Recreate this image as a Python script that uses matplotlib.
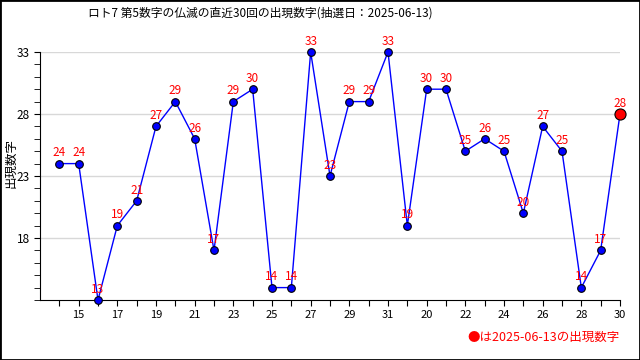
import matplotlib
matplotlib.use('Agg')
import matplotlib.pyplot as plt
from matplotlib.patches import Rectangle
from matplotlib.ticker import MultipleLocator

plt.rcParams['font.family'] = ['Noto Sans CJK JP', 'DejaVu Sans']

# Data: last 30 draws
numbers = [24, 24, 13, 19, 21, 27, 29, 26, 17, 29, 30, 14, 14, 33, 23,
           29, 29, 33, 19, 30, 30, 25, 26, 25, 20, 27, 25, 14, 17, 28]
round_labels = ['', '15', '', '17', '', '19', '', '21', '', '23', '', '25', '', '27', '',
                '29', '', '31', '', '20', '', '22', '', '24', '', '26', '', '28', '', '30']
title = 'ロト7 第5数字の仏滅の直近30回の出現数字(抽選日：2025-06-13)'
draw_date = '2025-06-13'

x = list(range(1, len(numbers) + 1))

fig = plt.figure(figsize=(6.4, 3.6), dpi=100)
ax = fig.add_axes([40 / 640, 1 - 300 / 360, 580 / 640, 248 / 360])

ax.plot(x[:-1], numbers[:-1], color='blue', lw=1, marker='o', ms=5.5,
        mfc='blue', mec='black', mew=0.8, clip_on=False, zorder=3)
ax.plot(x[-2:], numbers[-2:], color='blue', lw=1, clip_on=False, zorder=2)
ax.plot(x[-1], numbers[-1], 'o', ms=8, mfc='red', mec='black', mew=0.8,
        clip_on=False, zorder=4)

for xi, yi in zip(x, numbers):
    ax.annotate(str(yi), (xi, yi), xytext=(0, 3), textcoords='offset points',
                ha='center', va='bottom', color='red', fontsize=8.5, zorder=5)

ax.set_xlim(0, 30)
ax.set_ylim(13, 33)
ax.set_xticks(x)
ax.set_xticklabels(round_labels, fontsize=8)
ax.yaxis.set_minor_locator(MultipleLocator(1))
ax.set_yticks([18, 23, 28, 33])
ax.tick_params(axis='y', which='major', length=4, labelsize=8.5)
ax.tick_params(axis='y', which='minor', length=4)
ax.tick_params(axis='x', length=4, pad=3)
ax.grid(axis='y', which='major', color='#d8d8d8', lw=1)
ax.set_axisbelow(True)
for s in ['top', 'right']:
    ax.spines[s].set_visible(False)

fig.text(11 / 640, 1 - 163 / 360, '出現数字', rotation=90, ha='center', va='center',
         fontsize=9)
fig.text(260 / 640, 1 - 13 / 360, title, ha='center', va='center', fontsize=8.5)
fig.text(620 / 640, 1 - 337 / 360, '●は' + draw_date + 'の出現数字', ha='right',
         va='center', color='red', fontsize=9)

fig.patches.append(Rectangle((0, 0), 1, 1, transform=fig.transFigure, fill=False,
                             ec='black', lw=2))

fig.savefig('out.png', dpi=100)
